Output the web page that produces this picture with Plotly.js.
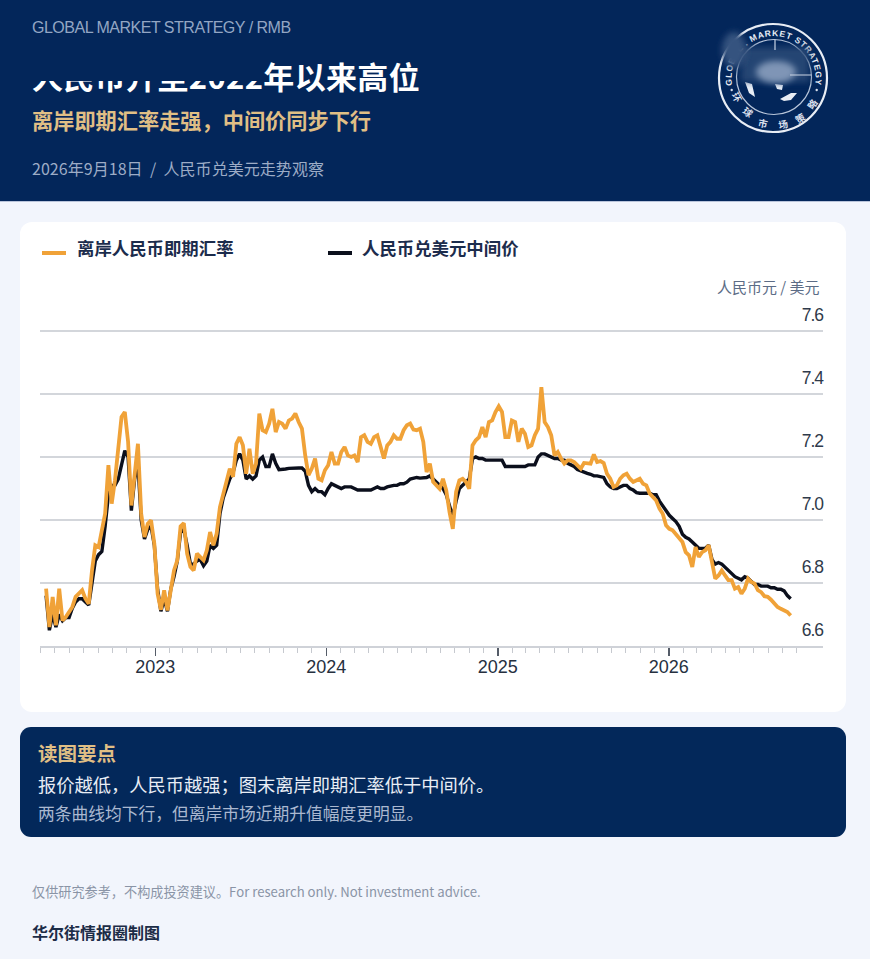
<!DOCTYPE html>
<html lang="zh"><head><meta charset="utf-8">
<script src="https://cdn.plot.ly/plotly-3.0.1.min.js"></script>
<style>
html,body{margin:0;padding:0;width:870px;height:959px;overflow:hidden;background:#f2f5fc;font-family:"Noto Sans CJK SC","Noto Sans",sans-serif}
.t{position:absolute;white-space:nowrap;line-height:1}
#head{position:absolute;left:0;top:0;width:870px;height:202px;background:#03265a;border-bottom:1px solid #b9c4da;box-sizing:border-box}
#card{position:absolute;left:20px;top:222px;width:826px;height:490px;background:#fff;border-radius:12px}
#note{position:absolute;left:20px;top:727px;width:826px;height:110px;background:#03285a;border-radius:11px}
#chart{position:absolute;left:0;top:0;width:870px;height:959px}
#mask{position:absolute;left:30px;top:58px;width:233px;height:23px;background:#03265a}
#logo{position:absolute;left:710px;top:14px}
.key{position:absolute;top:251px;width:24px;height:4px}
.ytick text{letter-spacing:-1px}
</style></head><body>
<div id="head"></div><div id="card"></div><div id="note"></div>
<div class="key" style="left:42px;background:#f0a238"></div>
<div class="t" id="lg0" style="left:77px;top:239px;font-size:17.4px;font-weight:700;color:#1c2c4c"></div>
<div class="key" style="left:328px;background:#0b0f1c"></div>
<div class="t" id="lg1" style="left:362px;top:239px;font-size:17.4px;font-weight:700;color:#1c2c4c"></div>
<div id="chart"></div>
<div class="t" style="left:32px;top:19px;font:16px 'Liberation Sans',sans-serif;color:#93a6c4;letter-spacing:-.49px">GLOBAL MARKET STRATEGY / RMB</div>
<div class="t" id="title" style="left:32px;top:60px;font-size:31px;font-weight:700;color:#fff;letter-spacing:.35px">人民币升至2022年以来高位</div>
<div id="mask"></div>
<div class="t" style="left:32px;top:109px;font-size:21.2px;font-weight:700;color:#e0bf85">离岸即期汇率走强，中间价同步下行</div>
<div class="t" style="left:32px;top:160px;font-size:16px;letter-spacing:.05px;color:#9dacc6">2026年9月18日&nbsp; /&nbsp; 人民币兑美元走势观察</div>
<svg id="logo" width="128" height="128" viewBox="0 0 128 128">
<defs><path id="arcTop" d="M 63.5 106 A 42 42 0 1 1 63.51 106"/><filter id="bl2" x="-50%" y="-50%" width="200%" height="200%"><feGaussianBlur stdDeviation="3"/></filter></defs>
<circle cx="63" cy="64" r="54" fill="none" stroke="#e8edf5" stroke-width="2.2"/>
<circle cx="64" cy="63" r="37.5" fill="none" stroke="#b9c6da" stroke-width="1.2"/>
<path d="M 35 68 l 7 2 l 3 13 l -6 -4 Z M 70 85 l 11 -6 l 6 0 l -6 7 l -7 1 Z M 65 70 l 8 1 l -1 5 l -5 -1 Z" fill="#e8edf5"/>
<text font-family="Liberation Sans" font-size="8.5" font-weight="700" fill="#e8edf5" letter-spacing=".8"><textPath href="#arcTop" startOffset="50%" text-anchor="middle">GLOBAL . MARKET STRATEGY</textPath></text>
<g font-size="9.5" font-weight="700" fill="#d8dfec" text-anchor="middle" dominant-baseline="central">
<text transform="translate(27 83) rotate(62)">环</text>
<text transform="translate(38 98) rotate(36)">球</text>
<text transform="translate(53 109) rotate(12)">市</text>
<text transform="translate(73 110) rotate(-12)">场</text>
<text transform="translate(90 104) rotate(-34)">策</text>
<text transform="translate(102 90) rotate(-56)">略</text>
</g>
<circle cx="21.7" cy="76" r="1.2" fill="#d8dfec"/><circle cx="106.7" cy="76" r="1.2" fill="#d8dfec"/>
<rect x="31" y="33" width="68" height="35" fill="#2b4b78" opacity=".85" filter="url(#bl2)"/>
<ellipse cx="66" cy="58" rx="20" ry="11" fill="#7f95b6" filter="url(#bl2)"/>
<ellipse cx="24" cy="36" rx="12" ry="18" fill="#34527f" filter="url(#bl2)"/>
<path d="M 65 25.5 L 65 36 M 80 61 L 101.5 61" fill="none" stroke="#c9d4e4" stroke-width="1.2"/>
</svg>
<div class="t" style="left:38px;top:743px;font-size:19.5px;font-weight:700;color:#e0bf85">读图要点</div>
<div class="t" style="left:38px;top:775px;font-size:18.25px;color:#e8edf5">报价越低，人民币越强；图末离岸即期汇率低于中间价。</div>
<div class="t" style="left:38px;top:805px;font-size:16.75px;color:#aab8d0">两条曲线均下行，但离岸市场近期升值幅度更明显。</div>
<div class="t" style="left:32px;top:885px;font-size:13.15px;color:#8a94a6">仅供研究参考，不构成投资建议。For research only. Not investment advice.</div>
<div class="t" style="left:32px;top:924px;font-size:16px;font-weight:700;color:#1c2c47">华尔街情报圈制图</div>
<script>
const lastDate = '2026-09-18';
const offshore = [6.782,6.66,6.756,6.666,6.782,6.681,6.692,6.708,6.724,6.756,6.766,6.777,6.75,6.734,6.84,6.92,6.914,6.967,7.02,7.174,
7.052,7.126,7.221,7.327,7.343,7.248,7.046,7.136,7.242,7.02,6.946,6.988,6.999,6.925,6.766,6.715,6.777,6.713,6.787,6.84,
6.872,6.98,6.99,6.893,6.851,6.84,6.893,6.883,6.872,6.904,6.962,6.92,6.957,7.041,7.084,7.115,7.163,7.137,7.242,7.263,
7.237,7.147,7.226,7.147,7.179,7.338,7.285,7.279,7.306,7.353,7.279,7.311,7.306,7.29,7.316,7.322,7.338,7.311,7.29,7.205,
7.142,7.163,7.195,7.131,7.126,7.158,7.174,7.216,7.179,7.179,7.216,7.232,7.205,7.2,7.205,7.184,7.263,7.269,7.248,7.242,
7.263,7.269,7.226,7.195,7.237,7.248,7.269,7.258,7.258,7.285,7.301,7.306,7.287,7.285,7.29,7.248,7.152,7.179,7.121,7.11,
7.099,7.131,7.094,7.025,6.972,7.089,7.126,7.131,7.121,7.099,7.237,7.253,7.263,7.295,7.263,7.311,7.316,7.343,7.361,7.343,
7.263,7.263,7.316,7.311,7.248,7.29,7.274,7.232,7.237,7.269,7.29,7.422,7.311,7.295,7.269,7.205,7.216,7.195,7.179,7.189,
7.189,7.184,7.174,7.163,7.181,7.181,7.179,7.208,7.184,7.187,7.181,7.147,7.131,7.105,7.11,7.131,7.142,7.147,7.131,7.121,
7.126,7.131,7.115,7.11,7.084,7.071,7.062,7.036,7.02,6.983,6.972,6.967,6.954,6.941,6.93,6.898,6.888,6.851,6.914,6.883,
6.898,6.904,6.92,6.867,6.814,6.824,6.84,6.824,6.809,6.809,6.782,6.787,6.766,6.782,6.814,6.803,6.798,6.777,6.771,6.758,
6.756,6.747,6.734,6.724,6.718,6.713,6.708,6.697];
const fixing = [6.76,6.65,6.70,6.66,6.70,6.68,6.69,6.69,6.72,6.74,6.75,6.75,6.74,6.73,6.80,6.87,6.89,6.90,6.98,7.08,
7.11,7.11,7.13,7.17,7.22,7.2,7.03,7.13,7.18,7.0,6.94,6.97,6.98,6.92,6.78,6.71,6.75,6.71,6.78,6.82,
6.87,6.96,6.97,6.92,6.86,6.86,6.87,6.875,6.855,6.87,6.92,6.91,6.92,7.02,7.07,7.10,7.13,7.15,7.19,7.21,
7.19,7.13,7.14,7.13,7.14,7.19,7.20,7.17,7.17,7.21,7.18,7.16,7.16,7.162,7.164,7.165,7.165,7.165,7.165,7.155,
7.11,7.09,7.10,7.09,7.09,7.08,7.10,7.115,7.11,7.105,7.10,7.105,7.105,7.105,7.10,7.095,7.095,7.095,7.095,7.095,
7.10,7.105,7.10,7.10,7.105,7.108,7.11,7.11,7.115,7.115,7.12,7.13,7.133,7.135,7.133,7.135,7.135,7.14,7.13,7.12,
7.11,7.10,7.08,7.04,7.01,7.06,7.10,7.11,7.12,7.13,7.195,7.20,7.195,7.195,7.19,7.19,7.19,7.19,7.19,7.19,
7.17,7.17,7.17,7.17,7.17,7.17,7.17,7.175,7.175,7.175,7.20,7.21,7.21,7.205,7.20,7.195,7.195,7.19,7.19,7.18,
7.175,7.17,7.16,7.155,7.15,7.148,7.145,7.14,7.14,7.137,7.135,7.115,7.105,7.10,7.10,7.105,7.11,7.11,7.10,7.095,
7.087,7.085,7.085,7.083,7.085,7.08,7.08,7.06,7.045,7.03,7.015,7.005,6.995,6.98,6.955,6.945,6.94,6.93,6.92,6.91,
6.91,6.91,6.92,6.875,6.86,6.865,6.86,6.85,6.84,6.83,6.82,6.815,6.81,6.82,6.815,6.805,6.795,6.795,6.79,6.79,
6.79,6.785,6.785,6.78,6.78,6.775,6.76,6.75];
const weeklyDates = n => Array.from({length:n},(_, i)=>new Date(Date.parse(lastDate)-(n-1-i)*7*864e5).toISOString().slice(0,10));
const yTicks = [6.6,6.8,7.0,7.2,7.4,7.6];
const xTicks = ['2023-01-01','2024-01-01','2025-01-01','2026-01-01'];
const xLabels = ['2023','2024','2025','2026'];
const names = ['离岸人民币即期汇率','人民币兑美元中间价'];
const unit = '人民币元 / 美元';
const ORANGE='#f0a238', BLACK='#0b0f1c';
document.getElementById('lg0').textContent=names[0];
document.getElementById('lg1').textContent=names[1];
Plotly.newPlot('chart',[
 {name:names[1],x:weeklyDates(fixing.length),y:fixing,mode:'lines',line:{color:BLACK,width:3.4},hoverinfo:'skip'},
 {name:names[0],x:weeklyDates(offshore.length),y:offshore,mode:'lines',line:{color:ORANGE,width:3.8},hoverinfo:'skip'}
],{
 width:870,height:959,paper_bgcolor:'rgba(0,0,0,0)',plot_bgcolor:'rgba(0,0,0,0)',
 margin:{l:40,r:47,t:300,b:313},
 font:{family:'"Noto Sans CJK SC","Liberation Sans",sans-serif'},
 showlegend:false,
 xaxis:{type:'date',range:['2022-04-30','2026-11-26'],tickvals:xTicks,ticktext:xLabels,ticks:'outside',ticklen:8,tickwidth:1.5,tickcolor:'#555c68',
   showgrid:false,zeroline:false,showline:true,linecolor:'#cfd2d8',linewidth:1.5,ticklabelstandoff:-4,
   tickfont:{family:'"Liberation Sans",sans-serif',size:18,color:'#26303f'},
   minor:{dtick:'M1',tick0:'2023-01-01',ticks:'outside',ticklen:5,tickwidth:1,tickcolor:'#c6c9cf',showgrid:false}},
 yaxis:{range:[6.6,7.6984],side:'right',tickvals:yTicks,ticktext:yTicks.map(v=>v.toFixed(1)),ticklabelposition:'inside top',ticks:'',
   ticklabelstandoff:-3,ticklabelshift:-4,
   showgrid:true,gridcolor:'#d3d6db',gridwidth:1.5,zeroline:false,showline:false,
   tickfont:{family:'"Liberation Sans",sans-serif',size:17.5,color:'#2f3a4a'}},
 annotations:[{xref:'paper',yref:'paper',x:0.9988,xanchor:'right',y:1.0376,yanchor:'middle',text:unit,showarrow:false,font:{size:15,color:'#5c6c86'}}]
},{staticPlot:true,displayModeBar:false});
</script></body></html>
